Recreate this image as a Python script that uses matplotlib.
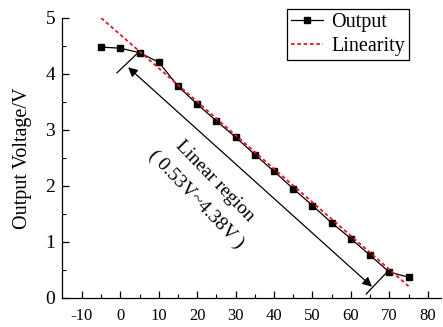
import numpy as np
import matplotlib
matplotlib.use("Agg")
import matplotlib.pyplot as plt

plt.rcParams['font.family'] = ['Liberation Serif', 'DejaVu Serif']
plt.rcParams['axes.unicode_minus'] = False

# measured output
pos = [-5, 0, 5, 10, 15, 20, 25, 30, 35, 40, 45, 50, 55, 60, 65, 70, 75]
volt = [4.48, 4.46, 4.38, 4.21, 3.78, 3.46, 3.16, 2.87, 2.56, 2.26,
        1.95, 1.65, 1.34, 1.06, 0.76, 0.46, 0.37]

# ideal linear fit (end points)
lin_x = [-5, 75]
lin_y = [5.0, 0.21]

xticks = [-10, 0, 10, 20, 30, 40, 50, 60, 70, 80]
yticks = [0, 1, 2, 3, 4, 5]

fig = plt.figure(figsize=(4.43, 3.27), dpi=100)
ax = fig.add_axes([0.14, 0.089, 0.855, 0.856])

ax.plot(pos, volt, "-", color="black", lw=0.9, marker="s", ms=5,
        label="Output")
ax.plot(lin_x, lin_y, color="#e8141c", lw=1.3, ls=(0, (2, 1.5)),
        label="Linearity")

# linear region arrow
ax.annotate("", xy=(2.0, 4.12), xytext=(65.5, 0.2),
            arrowprops=dict(arrowstyle="<|-|>", color="black", lw=0.9,
                            mutation_scale=14, shrinkA=0, shrinkB=0))
ax.plot([-0.9, 4.6], [4.02, 4.38], color="black", lw=0.9)
ax.plot([64.0, 69.4], [0.07, 0.46], color="black", lw=0.9)
ax.text(24.6, 2.09, "Linear region", rotation=-46, fontsize=14,
        ha="center", va="center", rotation_mode="anchor")
ax.text(19.8, 1.75, "( 0.53V~4.38V )", rotation=-46, fontsize=14,
        ha="center", va="center", rotation_mode="anchor")

ax.set_xlim(-15.2, 83.4)
ax.set_ylim(0, 5)
ax.set_xticks(xticks)
ax.set_yticks(yticks)
ax.set_xticks(np.arange(-10, 85, 5), minor=True)
ax.set_yticks(np.arange(0.5, 5, 1), minor=True)
ax.tick_params(direction="in", length=5, width=0.9)
ax.tick_params(axis="x", labelsize=12, pad=7)
ax.tick_params(axis="y", labelsize=14, pad=5)
ax.tick_params(which="minor", direction="in", length=3, width=0.8)
ax.spines["top"].set_visible(False)
ax.spines["right"].set_visible(False)
for s in ["left", "bottom"]:
    ax.spines[s].set_linewidth(0.9)

ax.set_ylabel("Output Voltage/V", fontsize=14.5)
ax.yaxis.set_label_coords(-0.08, 0.5)

leg = ax.legend(loc="upper right", bbox_to_anchor=(0.924, 0.973),
                bbox_transform=fig.transFigure, fontsize=14.5, fancybox=False,
                framealpha=1, edgecolor="black", handlelength=1.6,
                borderpad=0.2, labelspacing=0.25, handletextpad=0.4,
                borderaxespad=0)
leg.get_frame().set_linewidth(0.9)

fig.savefig("out.png", dpi=100)
